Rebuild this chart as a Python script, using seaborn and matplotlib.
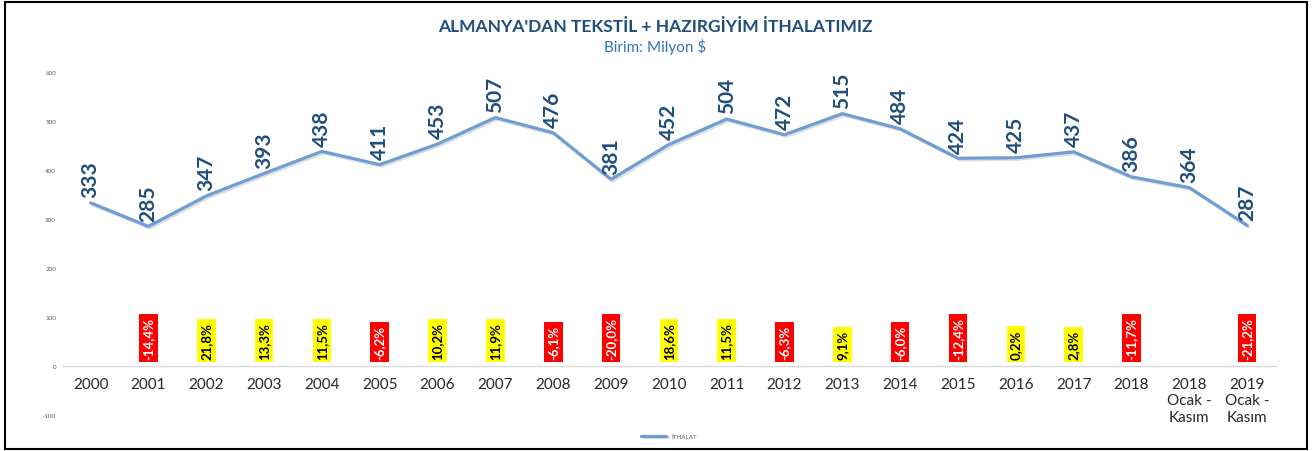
import matplotlib
matplotlib.use("Agg")
import matplotlib.pyplot as plt
import matplotlib.patheffects as pe
from matplotlib.patches import Rectangle
import seaborn as sns
import pandas as pd

categories = ["2000", "2001", "2002", "2003", "2004", "2005", "2006", "2007", "2008", "2009",
              "2010", "2011", "2012", "2013", "2014", "2015", "2016", "2017", "2018",
              "2018\nOcak -\nKasım", "2019\nOcak -\nKasım"]
ithalat = [333, 285, 347, 393, 438, 411, 453, 507, 476, 381, 452, 504, 472, 515, 484,
           424, 425, 437, 386, 364, 287]
changes = [None, -14.4, 21.8, 13.3, 11.5, -6.2, 10.2, 11.9, -6.1, -20.0, 18.6, 11.5, -6.3,
           9.1, -6.0, -12.4, 0.2, 2.8, -11.7, None, -21.2]
yticks = [-100, 0, 100, 200, 300, 400, 500, 600]

sns.set_theme(style="white")
plt.rcParams['font.family'] = ['Lato', 'DejaVu Sans']

df = pd.DataFrame({"pos": list(range(len(categories))), "val": ithalat})

fig = plt.figure(figsize=(13.12, 4.52), dpi=100)
ax = fig.add_axes([0.047, 0.0796, 0.9256, 0.7589])

line_color = "#6E9ED3"
sns.lineplot(data=df, x="pos", y="val", ax=ax, color=line_color, linewidth=2.3,
             label="İTHALAT", sort=False)
ax.lines[0].set_path_effects([pe.SimpleLineShadow(offset=(1.2, -1.2), alpha=0.25, shadow_color="gray"), pe.Normal()])

ax.set_xlim(-0.5, len(categories) - 0.5)
ax.set_ylim(-100, 600)
ax.set_yticks(yticks)
ax.set_yticklabels([str(v) for v in yticks], fontsize=4.5, color="#595959")
ax.set_xticks(range(len(categories)))
ax.set_xticklabels(categories, fontsize=10, color="#404040", linespacing=1.35)
ax.tick_params(axis="y", length=0, pad=4)
ax.tick_params(axis="x", length=0, pad=8)
ax.set_xlabel("")
ax.set_ylabel("")
for s in ["top", "right", "left"]:
    ax.spines[s].set_visible(False)
ax.spines["bottom"].set_position(("data", 0))
ax.spines["bottom"].set_color("#D9D9D9")
ax.spines["bottom"].set_linewidth(1.0)
ax.grid(False)

for i, v in enumerate(ithalat):
    ax.annotate(str(v), (i, v), xytext=(0, 4), textcoords="offset points",
                rotation=90, ha="center", va="bottom", fontsize=15, fontweight="bold",
                color="#1F4E79")

for i, c in enumerate(changes):
    if c is None:
        continue
    txt = f"{c:.1f}".replace(".", ",") + "%"
    if c < 0:
        fc, tc = "#FF0000", "white"
    else:
        fc, tc = "#FFFF00", "black"
    ax.annotate(txt, (i, 0), xytext=(0, 5), textcoords="offset points",
                rotation=90, ha="center", va="bottom", fontsize=9.5, fontweight="bold",
                color=tc, bbox=dict(boxstyle="square,pad=0.25", fc=fc, ec="none"))

leg = ax.legend(loc="center", bbox_to_anchor=(0.5, -0.062), frameon=False,
                fontsize=4.5, handlelength=4, labelcolor="#595959")

fig.text(0.4995, 0.94, "ALMANYA'DAN TEKSTİL + HAZIRGİYİM İTHALATIMIZ", ha="center", va="center",
         fontsize=12.5, fontweight="bold", color="#1F4E79")
fig.text(0.4995, 0.895, "Birim: Milyon $", ha="center", va="center",
         fontsize=11, color="#2E75B6")

fig.patches.append(Rectangle((0.004, 0.004), 0.992, 0.99, transform=fig.transFigure,
                             fill=False, ec="black", lw=1.5))

fig.savefig("out.png", dpi=100)
